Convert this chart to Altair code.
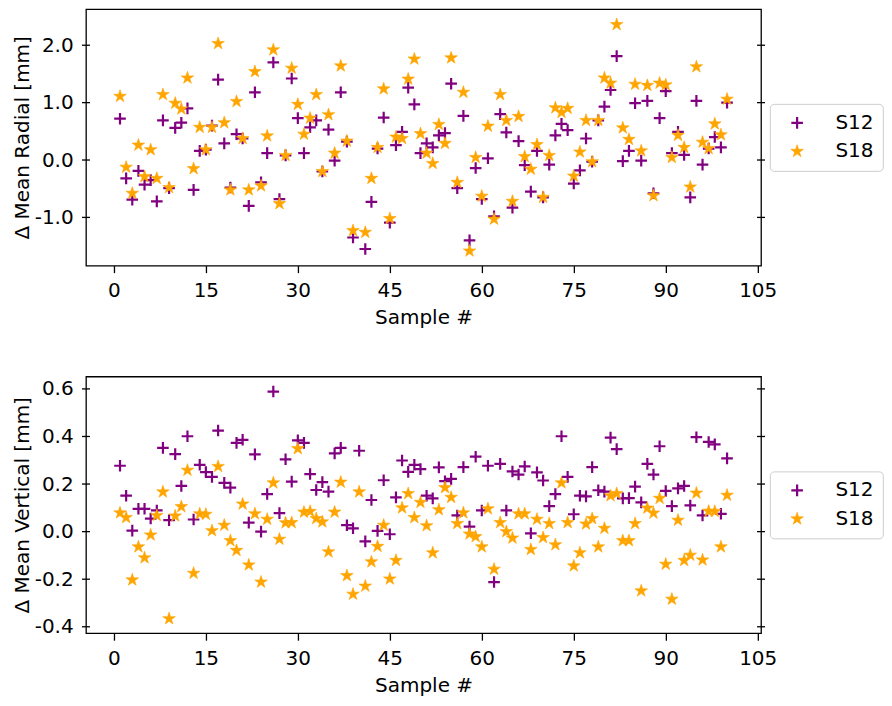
import math
import altair as alt
import pandas as pd

# ---------------- data ----------------
samples = list(range(1, 101))
series_names = ["S12", "S18"]

radial_s12 = [0.72, -0.32, -0.69, -0.19, -0.43, -0.35, -0.72, 0.69, -0.49, 0.56,
              0.65, 0.90, -0.52, 0.16, 0.18, 0.60, 1.40, 0.29, -0.48, 0.45,
              0.375, -0.80, 1.18, -0.39, 0.12, 1.70, -0.68, 0.08, 1.42, 0.73,
              0.12, 0.57, 0.69, -0.20, 0.53, -0.01, 1.18, 0.32, -1.35, None,
              -1.55, -0.73, 0.20, 0.74, -1.09, 0.26, 0.49, 1.26, 0.97, 0.12,
              0.29, 0.22, 0.43, 0.47, 1.33, -0.49, 0.77, -1.40, -0.14, -0.68,
              0.03, -0.98, 0.80, 0.48, -0.83, 0.33, -0.09, -0.55, 0.16, -0.65,
              -0.08, 0.43, 0.63, 0.52, -0.41, -0.18, 0.375, -0.03, 0.69, 0.93,
              1.22, 1.81, -0.02, 0.16, 0.99, -0.01, 1.03, -0.58, 0.73, 1.20,
              0.12, 0.49, 0.09, -0.65, 1.03, -0.08, 0.20, 0.40, 0.22, 1.00]

radial_s18 = [1.11, -0.125, -0.58, 0.26, -0.29, 0.18, -0.32, 1.14, -0.48, 0.99,
              0.89, 1.43, -0.15, 0.57, 0.18, 0.57, 2.03, 0.65, -0.52, 1.02,
              0.375, -0.52, 1.54, -0.45, 0.42, 1.92, -0.76, 0.08, 1.60, 0.97,
              0.45, 0.73, 1.14, -0.20, 0.79, 0.12, 1.64, 0.33, -1.23, None,
              -1.26, -0.32, 0.22, 1.24, -1.02, 0.40, 0.375, 1.41, 1.76, 0.46,
              0.12, -0.06, 0.62, 0.29, 1.78, -0.39, 1.18, -1.585, 0.045, -0.63,
              0.59, -1.03, 1.14, 0.69, -0.72, 0.76, 0.06, -0.16, 0.27, -0.65,
              0.08, 0.91, 0.83, 0.90, -0.28, 0.14, 0.69, -0.03, 0.69, 1.43,
              1.34, 2.36, 0.56, 0.36, 1.32, 0.16, 1.30, -0.62, 1.34, 1.31,
              0.045, 0.43, 0.22, -0.47, 1.625, 0.31, 0.20, 0.63, 0.44, 1.06]

vertical_s12 = [0.277, 0.151, 0.004, 0.096, 0.096, 0.055, 0.089, 0.352, 0.048, 0.326,
                0.192, 0.401, 0.051, 0.281, 0.25, 0.23, 0.425, 0.205, 0.185, 0.373,
                0.386, 0.038, 0.325, 0.0, 0.158, 0.589, 0.078, 0.304, 0.21, 0.384,
                0.373, 0.242, 0.175, 0.208, 0.168, 0.329, 0.352, 0.027, 0.014, 0.340,
                -0.041, 0.133, 0.003, 0.216, -0.011, 0.144, 0.299, 0.251, 0.281, 0.263,
                0.151, 0.14, 0.27, 0.212, 0.222, 0.068, 0.271, 0.021, 0.315, 0.089,
                0.277, -0.212, 0.285, 0.089, 0.253, 0.240, 0.274, -0.007, 0.249, 0.215,
                0.107, 0.158, 0.401, 0.230, 0.073, 0.151, 0.148, 0.271, 0.174, 0.168,
                0.395, 0.347, 0.14, 0.141, 0.189, 0.123, 0.285, 0.240, 0.359, 0.171,
                0.107, 0.182, 0.192, 0.110, 0.397, 0.068, 0.377, 0.367, 0.075, 0.308]

vertical_s18 = [0.079, 0.059, -0.203, -0.064, -0.11, -0.014, 0.068, 0.167, -0.366, 0.066,
                0.105, 0.258, -0.175, 0.075, 0.073, 0.004, 0.274, 0.027, -0.038, -0.079,
                0.116, -0.14, 0.075, -0.212, 0.052, 0.205, -0.032, 0.037, 0.038, 0.349,
                0.082, 0.085, 0.055, 0.041, -0.085, 0.082, 0.208, -0.185, -0.263, 0.167,
                -0.229, -0.127, -0.062, 0.027, -0.199, -0.121, 0.1, 0.160, 0.059, 0.123,
                0.025, -0.089, 0.092, 0.185, 0.144, 0.034, 0.079, -0.01, -0.021, -0.064,
                0.096, -0.158, 0.038, 0.0, -0.027, 0.075, 0.075, -0.075, 0.052, -0.025,
                0.034, -0.055, 0.205, 0.038, -0.144, -0.089, 0.032, 0.055, -0.064, 0.014,
                0.151, 0.160, -0.038, -0.038, 0.034, -0.249, 0.099, 0.078, 0.14, -0.137,
                -0.284, 0.048, -0.121, -0.099, 0.162, -0.119, 0.086, 0.085, -0.064, 0.153]

x_ticks = [0, 15, 30, 45, 60, 75, 90, 105]
radial_ticks = [-1.0, 0.0, 1.0, 2.0]
vertical_ticks = [-0.4, -0.2, 0.0, 0.2, 0.4, 0.6]

# ---------------- marker shapes (unit-box SVG paths) ----------------
star_pts = []
for i in range(10):
    ang = math.radians(90 + 36 * i)
    r = 1.0 if i % 2 == 0 else 0.381966
    star_pts.append((r * math.cos(ang), -r * math.sin(ang)))
star_path = "M" + "L".join(f"{px:.4f},{py:.4f}" for px, py in star_pts) + "Z"
cross_path = "M-1,0L1,0M0,-1L0,1"

FONT = "DejaVu Sans"
W = 675.2


def long_frame(a, b):
    rows = []
    for name, vals in ((series_names[0], a), (series_names[1], b)):
        for s, v in zip(samples, vals):
            if v is not None:
                rows.append({"sample": s, "value": v, "series": name})
    return pd.DataFrame(rows)


def panel(a, b, ytitle, ydomain, yticks, height, legend_y):
    df = long_frame(a, b)
    leg = alt.Legend(title=None, orient="none", legendX=684.0, legendY=legend_y,
                     padding=9, rowPadding=7.5, symbolOffset=8.3, labelOffset=28.3,
                     labelFontSize=20, labelFont=FONT, labelColor="black",
                     strokeColor="#cccccc", fillColor="white", cornerRadius=4)
    xenc = alt.X("sample:Q",
                 scale=alt.Scale(domain=[-4.55, 105.54], nice=False, zero=False),
                 axis=alt.Axis(values=x_ticks, format="d", title="Sample #", grid=False,
                               domain=False, ticks=True, tickSize=7, tickWidth=1.3,
                               tickColor="black", labelPadding=8.2, labelFontSize=20,
                               labelFont=FONT, labelColor="black", labelFlush=False,
                               labelOverlap=False, titleFontSize=20, titleFont=FONT,
                               titleColor="black", titleFontWeight="normal",
                               titlePadding=7))
    yenc = alt.Y("value:Q",
                 scale=alt.Scale(domain=ydomain, nice=False, zero=False),
                 axis=alt.Axis(values=yticks, format=".1f",
                               labelExpr="replace(datum.label, '\u2212', '-')",
                               title=ytitle, grid=False, domain=False, ticks=False,
                               labelPadding=12.8, labelFontSize=20, labelFont=FONT,
                               labelColor="black", labelFlush=False, labelOverlap=False,
                               titleFontSize=20, titleFont=FONT, titleColor="black",
                               titleFontWeight="normal", titlePadding=1.5))
    points = alt.Chart(df).mark_point(opacity=1).encode(
        x=xenc,
        y=yenc,
        shape=alt.Shape("series:N", scale=alt.Scale(domain=series_names,
                                                    range=[cross_path, star_path]), legend=leg),
        fill=alt.Fill("series:N", scale=alt.Scale(domain=series_names,
                                                  range=["transparent", "#FFA500"]), legend=leg),
        stroke=alt.Stroke("series:N", scale=alt.Scale(domain=series_names,
                                                      range=["#800080", "#FFA500"]), legend=leg),
        size=alt.Size("series:N", scale=alt.Scale(domain=series_names,
                                                  range=[135, 175]), legend=leg),
        strokeWidth=alt.StrokeWidth("series:N", scale=alt.Scale(domain=series_names,
                                                                range=[2.2, 0.6]), legend=leg),
    )
    tdf = pd.DataFrame({"value": yticks})
    left_ticks = alt.Chart(tdf).mark_rule(color="black", strokeWidth=1.3).encode(
        y=alt.Y("value:Q"), x=alt.value(-4), x2=alt.value(4))
    right_ticks = alt.Chart(tdf).mark_rule(color="black", strokeWidth=1.3).encode(
        y=alt.Y("value:Q"), x=alt.value(W - 4), x2=alt.value(W + 4))
    return alt.layer(points, left_ticks, right_ticks).properties(width=W, height=height)


top = panel(radial_s12, radial_s18, "\u0394 Mean Radial [mm]", [-1.840, 2.630],
            radial_ticks, 256.6, 94.8)
bottom = panel(vertical_s12, vertical_s18, "\u0394 Mean Vertical [mm]", [-0.427, 0.652],
               vertical_ticks, 256.7, 94.85)

chans = dict(shape="independent", fill="independent", stroke="independent",
             size="independent", strokeWidth="independent")

chart = alt.vconcat(top, bottom, spacing=110.55, bounds="flush").resolve_scale(
    y="independent", **chans
).resolve_legend(**chans).properties(
    padding={"left": 4, "top": 0, "right": 0, "bottom": 0}
).configure_view(stroke="black", strokeWidth=1.3)

chart.save("out.html", embed_options={"renderer": "svg", "actions": False})
